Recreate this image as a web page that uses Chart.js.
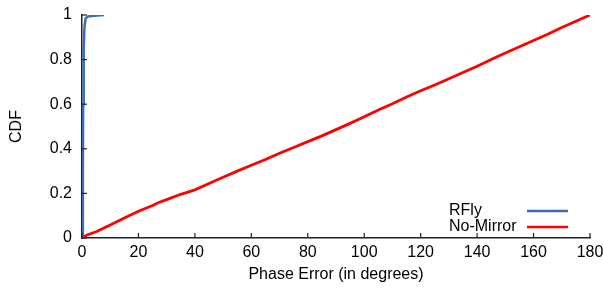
<!DOCTYPE html>
<html><head><meta charset="utf-8">
<script src="https://cdn.jsdelivr.net/npm/chart.js@4"></script>
<style>html,body{margin:0;padding:0;background:#fff}#wrap{width:603px;height:290px}</style>
</head><body><div id="wrap"><canvas id="c" width="603" height="290"></canvas></div>
<script>
const seriesNames = ["RFly", "No-Mirror"];
const rflyX = [0, 0.3, 0.4, 0.6, 0.9, 1.3, 2, 3.5, 5.5, 7.8];
const rflyY = [0, 0.3, 0.6, 0.85, 0.95, 0.985, 0.993, 0.996, 0.998, 1.0];
const noMirrorX = [0, 2, 5, 10, 15, 20, 25, 27, 30, 35, 40, 45, 50, 55, 60, 65, 70, 75, 80, 85, 90, 95, 100, 105, 110, 115, 120, 125, 130, 135, 140, 145, 150, 155, 160, 165, 170, 175, 180];
const noMirrorY = [0, 0.015, 0.028, 0.058, 0.09, 0.12, 0.146, 0.158, 0.172, 0.196, 0.216, 0.244, 0.272, 0.3, 0.326, 0.352, 0.38, 0.406, 0.432, 0.458, 0.486, 0.514, 0.544, 0.574, 0.602, 0.632, 0.66, 0.686, 0.714, 0.742, 0.77, 0.8, 0.83, 0.858, 0.886, 0.914, 0.944, 0.972, 1.0];
const xTicks = [0, 20, 40, 60, 80, 100, 120, 140, 160, 180];
const yTicks = [0, 0.2, 0.4, 0.6, 0.8, 1];
const colors = ["#3a6cb8", "#ff0000"];

const FONT = "'Liberation Sans', Arial, sans-serif";
const toPts = (xs, ys) => xs.map((x, i) => ({x, y: ys[i]}));

const inwardTicks = {
  id: 'inwardTicks',
  afterDatasetsDraw(chart) {
    const {ctx, scales: {x, y}} = chart;
    ctx.save();
    ctx.strokeStyle = '#222';
    ctx.lineWidth = 1.2;
    xTicks.forEach(v => {
      const px = x.getPixelForValue(v);
      ctx.beginPath(); ctx.moveTo(px, y.bottom); ctx.lineTo(px, y.bottom - 5); ctx.stroke();
    });
    yTicks.forEach(v => {
      const py = y.getPixelForValue(v);
      ctx.beginPath(); ctx.moveTo(x.left, py); ctx.lineTo(x.left + 5, py); ctx.stroke();
    });
    // legend
    ctx.font = '16px ' + FONT;
    ctx.fillStyle = '#000';
    ctx.textBaseline = 'middle';
    ctx.textAlign = 'left';
    chart.data.datasets.forEach((ds, i) => {
      const ly = 211 + i * 16;
      ctx.fillText(ds.label, 449, ly);
      ctx.strokeStyle = ds.borderColor;
      ctx.lineWidth = 2.5;
      ctx.beginPath(); ctx.moveTo(527, ly); ctx.lineTo(568, ly); ctx.stroke();
    });
    ctx.restore();
  }
};

new Chart(document.getElementById('c'), {
  type: 'scatter',
  data: {
    datasets: [
      {label: seriesNames[0], data: toPts(rflyX, rflyY), borderColor: colors[0], showLine: true, pointRadius: 0, borderWidth: 2.5, tension: 0},
      {label: seriesNames[1], data: toPts(noMirrorX, noMirrorY), borderColor: colors[1], showLine: true, pointRadius: 0, borderWidth: 2.8, tension: 0}
    ]
  },
  options: {
    responsive: false,
    animation: false,
    layout: {padding: {left: 0, right: 13, top: 15, bottom: 0}},
    plugins: {legend: {display: false}, tooltip: {enabled: false}},
    scales: {
      x: {
        type: 'linear', min: 0, max: 180,
        afterFit(s) { s.height = 52; s.paddingRight = 0; s.paddingLeft = 0; },
        afterBuildTicks(s) { s.ticks = xTicks.map(v => ({value: v})); },
        grid: {display: true, drawOnChartArea: false, drawTicks: false},
        border: {display: true, color: '#222', width: 1.5},
        ticks: {color: '#000', font: {family: FONT, size: 16}, padding: 5, maxRotation: 0},
        title: {display: true, text: 'Phase Error (in degrees)', color: '#000', font: {family: FONT, size: 16}, padding: {top: 2, bottom: 6}}
      },
      y: {
        type: 'linear', min: 0, max: 1,
        afterFit(s) { s.width = 82; s.paddingTop = 0; s.paddingBottom = 0; },
        afterBuildTicks(s) { s.ticks = yTicks.map(v => ({value: v})); },
        grid: {display: true, drawOnChartArea: false, drawTicks: false},
        border: {display: true, color: '#222', width: 1.5},
        ticks: {color: '#000', font: {family: FONT, size: 16}, padding: 10, callback: v => String(v)},
        title: {display: true, text: 'CDF', color: '#000', font: {family: FONT, size: 16}, padding: {top: 7, bottom: 10}}
      }
    }
  },
  plugins: [inwardTicks]
});
</script></body></html>
